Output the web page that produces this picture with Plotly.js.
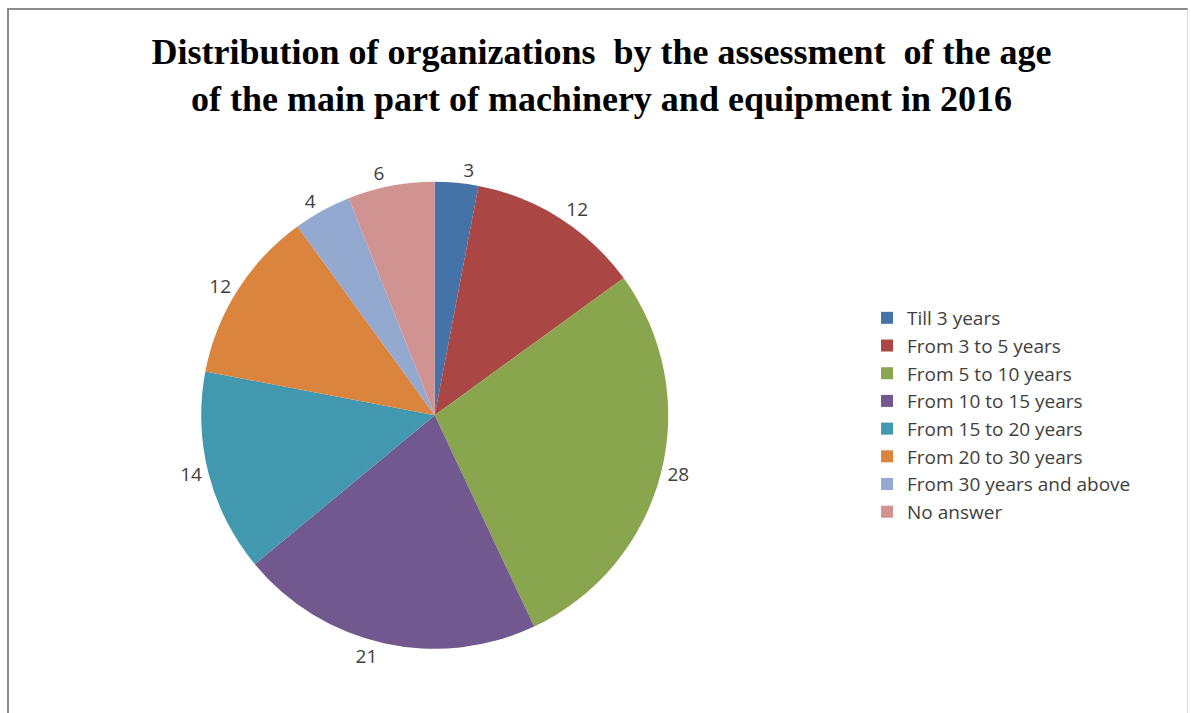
<!DOCTYPE html>
<html>
<head>
<meta charset="utf-8">
<script src="https://cdn.plot.ly/plotly-3.0.1.min.js"></script>
<style>
  html, body { margin: 0; padding: 0; background: #fff; }
  #wrap { position: relative; width: 1191px; height: 713px; overflow: hidden; }
  #chart { width: 1191px; height: 713px; }
  #frame { position: absolute; left: 7px; top: 8px; width: 1181px; height: 720px;
           border-left: 2px solid #8c8c8c; border-top: 2px solid #8c8c8c; border-right: 1px solid #d8d8d8;
           pointer-events: none; box-sizing: border-box; }
</style>
</head>
<body>
<div id="wrap">
  <div id="chart"></div>
  <div id="frame"></div>
</div>
<script>
const categories = [
  "Till 3 years",
  "From 3 to 5 years",
  "From 5 to 10 years",
  "From 10 to 15 years",
  "From 15 to 20 years",
  "From 20 to 30 years",
  "From 30 years and above",
  "No answer"
];
const values = [3, 12, 28, 21, 14, 12, 4, 6];
const colors = ["#4572A7", "#AA4643", "#89A54E", "#71588F", "#4198AF", "#DB843D", "#93A9CF", "#D19392"];
const titleText = "Distribution of organizations  by the assessment  of the age<br>of the main part of machinery and equipment in 2016";

const trace = {
  type: "pie",
  labels: categories,
  values: values,
  sort: false,
  direction: "clockwise",
  rotation: 0,
  marker: { colors: colors, line: { width: 0 } },
  textinfo: "value",
  textposition: "outside",
  outsidetextfont: { family: "Open Sans, Liberation Sans, sans-serif", size: 19, color: "#404040" },
  domain: { x: [0.09, 0.64], y: [0.09, 0.745] },
  hoverinfo: "label+value"
};

const layout = {
  width: 1191,
  height: 713,
  margin: { l: 0, r: 0, t: 0, b: 0 },
  paper_bgcolor: "#ffffff",
  showlegend: true,
  title: {
    text: titleText,
    font: { family: "Liberation Serif, Times New Roman, serif", size: 36, color: "#000000", weight: "bold" },
    x: 0.505,
    xanchor: "center",
    y: 0.91,
    yanchor: "top",
    yref: "container"
  },
  legend: {
    x: 0.728,
    xanchor: "left",
    y: 0.418,
    yanchor: "middle",
    font: { family: "Open Sans, Liberation Sans, sans-serif", size: 19, color: "#404040" },
    bgcolor: "rgba(0,0,0,0)",
    traceorder: "normal"
  }
};

Plotly.newPlot("chart", [trace], layout, { displayModeBar: false, staticPlot: true });
</script>
</body>
</html>
